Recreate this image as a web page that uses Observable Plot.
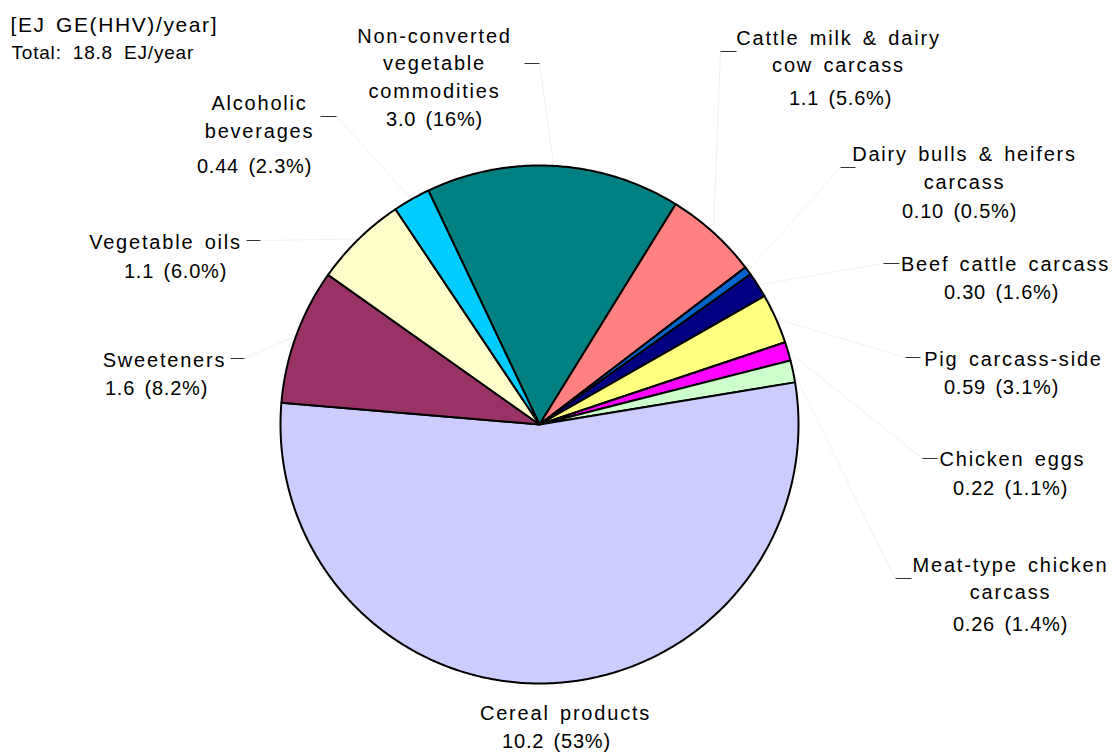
<!DOCTYPE html>
<html>
<head>
<meta charset="utf-8">
<script src="https://cdn.jsdelivr.net/npm/d3@7"></script>
<script src="https://cdn.jsdelivr.net/npm/@observablehq/plot@0.6"></script>
<style>
  html, body { margin: 0; padding: 0; background: #fff; }
  #chart svg { display: block; }
</style>
</head>
<body>
<div id="chart"></div>
<script>
// Gross energy of food commodities, clockwise from the top
const categories = [
  "Non-converted\nvegetable\ncommodities",
  "Cattle milk & dairy\ncow carcass",
  "Dairy bulls & heifers\ncarcass",
  "Beef cattle carcass",
  "Pig carcass-side",
  "Chicken eggs",
  "Meat-type chicken\ncarcass",
  "Cereal products",
  "Sweeteners",
  "Vegetable oils",
  "Alcoholic\nbeverages"
];
const values = [3.0, 1.1, 0.10, 0.30, 0.59, 0.22, 0.26, 10.2, 1.6, 1.1, 0.44];
const shares = [16, 5.6, 0.5, 1.6, 3.1, 1.1, 1.4, 53, 8.2, 6.0, 2.3];
const colors = ["#008080", "#FF8080", "#0066CC", "#000080", "#FFFF80", "#FF00FF",
                "#CCFFCC", "#CCCCFF", "#993366", "#FFFFCC", "#00CCFF"];
const unitLabel = "[EJ GE(HHV)/year]";
const totalValue = 18.8;

// Page geometry
const W = 1112, H = 754;
const cx = 539, cy = 424, R = 259;
const startAngle = -25.4 * Math.PI / 180;

// Label placement: centre x, baselines of the name lines, baseline of the value line,
// short tick next to the label [x1, x2, y] and which tick end the leader starts from
const labelLayout = [
  {x: 434,  lines: [42, 69.5, 97.5], vx: 434,  vy: 125, tick: [524, 539, 63],  end: 1},
  {x: 838,  lines: [44, 71],         vx: 840,  vy: 104, tick: [720, 736, 51],  end: 0},
  {x: 964,  lines: [160, 188],       vx: 959,  vy: 217, tick: [840, 855, 167], end: 0},
  {x: 1005, lines: [270],            vx: 1001, vy: 298, tick: [883, 899, 263], end: 0},
  {x: 1013, lines: [365],            vx: 1001, vy: 393, tick: [905, 920, 357], end: 0},
  {x: 1012, lines: [465],            vx: 1010, vy: 494, tick: [922, 937, 458], end: 0},
  {x: 1010, lines: [571, 598],       vx: 1010, vy: 630, tick: [895, 911, 578], end: 0},
  {x: 565,  lines: [719],            vx: 556,  vy: 747, tick: null,            end: 0},
  {x: 164,  lines: [366],            vx: 156,  vy: 394, tick: [230, 244, 358], end: 1},
  {x: 165,  lines: [248],            vx: 175,  vy: 277, tick: [246, 260, 240], end: 1},
  {x: 259,  lines: [109, 137],       vx: 254,  vy: 172, tick: [320, 336, 116], end: 1}
];

const fmtValue = v => v >= 10 ? v.toFixed(1) : v.toPrecision(2);
const fmtShare = s => s >= 10 ? s.toFixed(0) : s.toFixed(1);

// Slice angles from the values
const arcs = d3.pie().sort(null).value(d => d)
  .startAngle(startAngle).endAngle(startAngle + 2 * Math.PI)(values);

const polar = (t, r) => ({x: cx + r * Math.sin(t), y: cy - r * Math.cos(t)});

// Outline of every slice: centre, then along its arc
const slicePoints = [];
arcs.forEach((a, i) => {
  const cat = categories[i];
  slicePoints.push({cat, x: cx, y: cy});
  const n = Math.max(2, Math.ceil((a.endAngle - a.startAngle) / (Math.PI / 360)));
  for (let k = 0; k <= n; k++) {
    const t = a.startAngle + (a.endAngle - a.startAngle) * k / n;
    slicePoints.push({cat, ...polar(t, R)});
  }
});

// Label text rows
const nameRows = [], valueRows = [], ticks = [], leaders = [];
categories.forEach((c, i) => {
  const L = labelLayout[i];
  c.split("\n").forEach((line, j) => nameRows.push({text: line, x: L.x, y: L.lines[j]}));
  valueRows.push({text: `${fmtValue(values[i])} (${fmtShare(shares[i])}%)`, x: L.vx, y: L.vy});
  if (L.tick) {
    const [x1, x2, y] = L.tick;
    ticks.push({x1, x2, y});
    const a = arcs[i];
    const p = polar((a.startAngle + a.endAngle) / 2, R);
    leaders.push({x1: L.end ? x2 : x1, y1: y, x2: p.x, y2: p.y});
  }
});

const headerRows = [
  {text: unitLabel, x: 10, y: 31},
  {text: `Total: ${totalValue.toFixed(1)} EJ/year`, x: 11, y: 58}
];

const chart = Plot.plot({
  width: W,
  height: H,
  margin: 0,
  style: "font-family: 'Liberation Sans', Arial, sans-serif; background: #fff; color: #000;",
  x: {domain: [0, W], range: [0, W], axis: null},
  y: {domain: [0, H], range: [0, H], axis: null},
  color: {domain: categories, range: colors},
  marks: [
    Plot.link(leaders, {x1: "x1", y1: "y1", x2: "x2", y2: "y2", stroke: "#f1f1f1", strokeWidth: 1}),
    Plot.line(slicePoints, {
      x: "x", y: "y", z: "cat", fill: "cat",
      stroke: "#000", strokeWidth: 2, strokeLinejoin: "round", curve: "linear-closed"
    }),
    Plot.link(ticks, {x1: "x1", x2: "x2", y1: "y", y2: "y", stroke: "#333", strokeWidth: 1}),
    Plot.text(nameRows, {
      x: "x", y: "y", text: "text", textAnchor: "middle", lineAnchor: "bottom",
      fontSize: 20, fill: "#000", ariaDescription: "names"
    }),
    Plot.text(valueRows, {
      x: "x", y: "y", text: "text", textAnchor: "middle", lineAnchor: "bottom",
      fontSize: 20, fill: "#000", ariaDescription: "values"
    }),
    Plot.text(headerRows.slice(0, 1), {
      x: "x", y: "y", text: "text", textAnchor: "start", lineAnchor: "bottom",
      fontSize: 21, fill: "#000", ariaDescription: "unit"
    }),
    Plot.text(headerRows.slice(1), {
      x: "x", y: "y", text: "text", textAnchor: "start", lineAnchor: "bottom",
      fontSize: 19, fill: "#000", ariaDescription: "total"
    })
  ]
});

// Character spacing of the label groups
const spacing = {names: ["1.8px", "3px"], values: ["0.8px", "3px"], unit: ["1.6px", "3px"], total: ["0.8px", "5px"]};
for (const [key, [ls, ws]] of Object.entries(spacing)) {
  const g = chart.querySelector(`[aria-description="${key}"]`);
  if (g) { g.style.letterSpacing = ls; g.style.wordSpacing = ws; }
}

document.getElementById("chart").append(chart);
</script>
</body>
</html>
